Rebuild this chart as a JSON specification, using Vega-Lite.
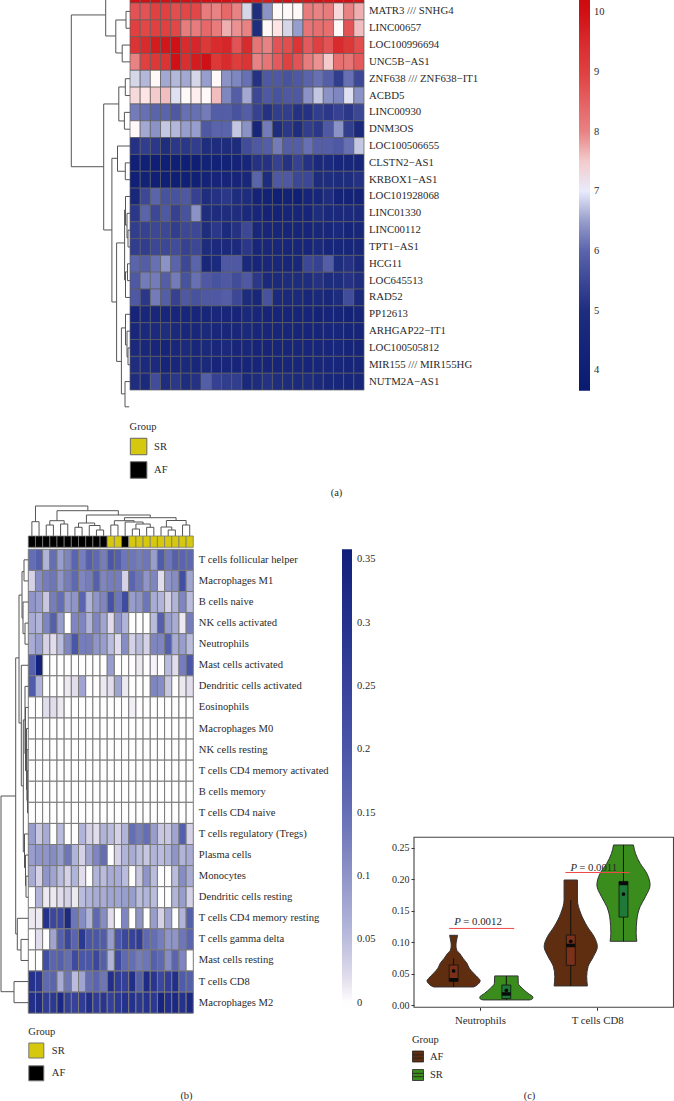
{"$schema":"https://vega.github.io/schema/vega-lite/v6.json","width":674,"height":1101,"padding":0,"autosize":{"type":"none"},"background":"white",
"config":{"view":{"stroke":null},"axis":{"labelFont":"Liberation Serif","titleFont":"Liberation Serif","labelColor":"#2a2a2a","titleColor":"#2a2a2a","grid":false,"titleFontWeight":"normal"},"legend":{"labelFont":"Liberation Serif","titleFont":"Liberation Serif","labelColor":"#2a2a2a","titleColor":"#2a2a2a","titleFontWeight":"normal"}},
"datasets":{
"genes":[{"r":0,"gene":" "},{"r":1,"gene":"MATR3 /// SNHG4"},{"r":2,"gene":"LINC00657"},{"r":3,"gene":"LOC100996694"},{"r":4,"gene":"UNC5B−AS1"},{"r":5,"gene":"ZNF638 /// ZNF638−IT1"},{"r":6,"gene":"ACBD5"},{"r":7,"gene":"LINC00930"},{"r":8,"gene":"DNM3OS"},{"r":9,"gene":"LOC100506655"},{"r":10,"gene":"CLSTN2−AS1"},{"r":11,"gene":"KRBOX1−AS1"},{"r":12,"gene":"LOC101928068"},{"r":13,"gene":"LINC01330"},{"r":14,"gene":"LINC00112"},{"r":15,"gene":"TPT1−AS1"},{"r":16,"gene":"HCG11"},{"r":17,"gene":"LOC645513"},{"r":18,"gene":"RAD52"},{"r":19,"gene":"PP12613"},{"r":20,"gene":"ARHGAP22−IT1"},{"r":21,"gene":"LOC100505812"},{"r":22,"gene":"MIR155 /// MIR155HG"},{"r":23,"gene":"NUTM2A−AS1"}],
"cells":[{"r":1,"gene":"T cells follicular helper"},{"r":2,"gene":"Macrophages M1"},{"r":3,"gene":"B cells naive"},{"r":4,"gene":"NK cells activated"},{"r":5,"gene":"Neutrophils"},{"r":6,"gene":"Mast cells activated"},{"r":7,"gene":"Dendritic cells activated"},{"r":8,"gene":"Eosinophils"},{"r":9,"gene":"Macrophages M0"},{"r":10,"gene":"NK cells resting"},{"r":11,"gene":"T cells CD4 memory activated"},{"r":12,"gene":"B cells memory"},{"r":13,"gene":"T cells CD4 naive"},{"r":14,"gene":"T cells regulatory (Tregs)"},{"r":15,"gene":"Plasma cells"},{"r":16,"gene":"Monocytes"},{"r":17,"gene":"Dendritic cells resting"},{"r":18,"gene":"T cells CD4 memory resting"},{"r":19,"gene":"T cells gamma delta"},{"r":20,"gene":"Mast cells resting"},{"r":21,"gene":"T cells CD8"},{"r":22,"gene":"Macrophages M2"}],
"ann":[{"c":1,"t":"Group","g":"AF"},{"c":2,"t":"Group","g":"AF"},{"c":3,"t":"Group","g":"AF"},{"c":4,"t":"Group","g":"AF"},{"c":5,"t":"Group","g":"AF"},{"c":6,"t":"Group","g":"AF"},{"c":7,"t":"Group","g":"AF"},{"c":8,"t":"Group","g":"AF"},{"c":9,"t":"Group","g":"AF"},{"c":10,"t":"Group","g":"AF"},{"c":11,"t":"Group","g":"AF"},{"c":12,"t":"Group","g":"SR"},{"c":13,"t":"Group","g":"SR"},{"c":14,"t":"Group","g":"AF"},{"c":15,"t":"Group","g":"SR"},{"c":16,"t":"Group","g":"SR"},{"c":17,"t":"Group","g":"SR"},{"c":18,"t":"Group","g":"SR"},{"c":19,"t":"Group","g":"SR"},{"c":20,"t":"Group","g":"SR"},{"c":21,"t":"Group","g":"SR"},{"c":22,"t":"Group","g":"SR"},{"c":23,"t":"Group","g":"SR"}],
"ha":[
{"r":0,"c":1,"v":10},{"r":0,"c":2,"v":10},{"r":0,"c":3,"v":10.1},{"r":0,"c":4,"v":10},{"r":0,"c":5,"v":10.2},{"r":0,"c":6,"v":10},{"r":0,"c":7,"v":10.1},{"r":0,"c":8,"v":10},{"r":0,"c":9,"v":10.1},{"r":0,"c":10,"v":10},{"r":0,"c":11,"v":9.9},{"r":0,"c":12,"v":10},{"r":0,"c":13,"v":9.8},{"r":0,"c":14,"v":9.8},{"r":0,"c":15,"v":10},{"r":0,"c":16,"v":10},{"r":0,"c":17,"v":9.9},{"r":0,"c":18,"v":9.9},{"r":0,"c":19,"v":10},{"r":0,"c":20,"v":9.9},{"r":0,"c":21,"v":10},{"r":0,"c":22,"v":10},{"r":0,"c":23,"v":9.9},
{"r":1,"c":1,"v":8.7},{"r":1,"c":2,"v":8.7},{"r":1,"c":3,"v":9},{"r":1,"c":4,"v":9},{"r":1,"c":5,"v":8.8},{"r":1,"c":6,"v":8.9},{"r":1,"c":7,"v":8.9},{"r":1,"c":8,"v":8.1},{"r":1,"c":9,"v":8},{"r":1,"c":10,"v":8.4},{"r":1,"c":11,"v":8},{"r":1,"c":12,"v":6.9},{"r":1,"c":13,"v":5},{"r":1,"c":14,"v":6.4},{"r":1,"c":15,"v":7.1},{"r":1,"c":16,"v":7.1},{"r":1,"c":17,"v":7.1},{"r":1,"c":18,"v":8.1},{"r":1,"c":19,"v":8},{"r":1,"c":20,"v":8.1},{"r":1,"c":21,"v":7.4},{"r":1,"c":22,"v":8},{"r":1,"c":23,"v":7.7},
{"r":2,"c":1,"v":9},{"r":2,"c":2,"v":8.9},{"r":2,"c":3,"v":9},{"r":2,"c":4,"v":9},{"r":2,"c":5,"v":8.9},{"r":2,"c":6,"v":8.1},{"r":2,"c":7,"v":8.1},{"r":2,"c":8,"v":8.4},{"r":2,"c":9,"v":8.1},{"r":2,"c":10,"v":7.7},{"r":2,"c":11,"v":7.9},{"r":2,"c":12,"v":8},{"r":2,"c":13,"v":5},{"r":2,"c":14,"v":7.1},{"r":2,"c":15,"v":7.3},{"r":2,"c":16,"v":6.9},{"r":2,"c":17,"v":6.5},{"r":2,"c":18,"v":8.2},{"r":2,"c":19,"v":8.3},{"r":2,"c":20,"v":8.3},{"r":2,"c":21,"v":7.1},{"r":2,"c":22,"v":8.7},{"r":2,"c":23,"v":7.6},
{"r":3,"c":1,"v":9.3},{"r":3,"c":2,"v":9.5},{"r":3,"c":3,"v":9.8},{"r":3,"c":4,"v":9.9},{"r":3,"c":5,"v":10},{"r":3,"c":6,"v":9.5},{"r":3,"c":7,"v":9.6},{"r":3,"c":8,"v":9.2},{"r":3,"c":9,"v":9.5},{"r":3,"c":10,"v":9.6},{"r":3,"c":11,"v":8.7},{"r":3,"c":12,"v":9.5},{"r":3,"c":13,"v":8.2},{"r":3,"c":14,"v":8},{"r":3,"c":15,"v":8.7},{"r":3,"c":16,"v":8.8},{"r":3,"c":17,"v":9.3},{"r":3,"c":18,"v":8.6},{"r":3,"c":19,"v":9},{"r":3,"c":20,"v":8.7},{"r":3,"c":21,"v":9.5},{"r":3,"c":22,"v":9.2},{"r":3,"c":23,"v":8.8},
{"r":4,"c":1,"v":8},{"r":4,"c":2,"v":9},{"r":4,"c":3,"v":9.2},{"r":4,"c":4,"v":9.3},{"r":4,"c":5,"v":10},{"r":4,"c":6,"v":9.4},{"r":4,"c":7,"v":9.8},{"r":4,"c":8,"v":10},{"r":4,"c":9,"v":9.2},{"r":4,"c":10,"v":9.5},{"r":4,"c":11,"v":9.1},{"r":4,"c":12,"v":9.3},{"r":4,"c":13,"v":8},{"r":4,"c":14,"v":8.2},{"r":4,"c":15,"v":8.6},{"r":4,"c":16,"v":9},{"r":4,"c":17,"v":8.7},{"r":4,"c":18,"v":8.1},{"r":4,"c":19,"v":7.9},{"r":4,"c":20,"v":7.5},{"r":4,"c":21,"v":8.3},{"r":4,"c":22,"v":8.2},{"r":4,"c":23,"v":8.6},
{"r":5,"c":1,"v":6.9},{"r":5,"c":2,"v":6.7},{"r":5,"c":3,"v":7.1},{"r":5,"c":4,"v":6.6},{"r":5,"c":5,"v":6.7},{"r":5,"c":6,"v":6.6},{"r":5,"c":7,"v":6.9},{"r":5,"c":8,"v":6.5},{"r":5,"c":9,"v":7.1},{"r":5,"c":10,"v":6.4},{"r":5,"c":11,"v":6.3},{"r":5,"c":12,"v":6.1},{"r":5,"c":13,"v":5.1},{"r":5,"c":14,"v":5.8},{"r":5,"c":15,"v":5.8},{"r":5,"c":16,"v":5.7},{"r":5,"c":17,"v":5.8},{"r":5,"c":18,"v":6},{"r":5,"c":19,"v":6.1},{"r":5,"c":20,"v":5.9},{"r":5,"c":21,"v":5.3},{"r":5,"c":22,"v":6.1},{"r":5,"c":23,"v":5.5},
{"r":6,"c":1,"v":7.4},{"r":6,"c":2,"v":7.3},{"r":6,"c":3,"v":7.5},{"r":6,"c":4,"v":7.6},{"r":6,"c":5,"v":6.95},{"r":6,"c":6,"v":7.1},{"r":6,"c":7,"v":7.2},{"r":6,"c":8,"v":7.1},{"r":6,"c":9,"v":7.6},{"r":6,"c":10,"v":6.3},{"r":6,"c":11,"v":5.9},{"r":6,"c":12,"v":6.6},{"r":6,"c":13,"v":5.5},{"r":6,"c":14,"v":5.8},{"r":6,"c":15,"v":5.7},{"r":6,"c":16,"v":5.8},{"r":6,"c":17,"v":5.8},{"r":6,"c":18,"v":6.4},{"r":6,"c":19,"v":6.8},{"r":6,"c":20,"v":6.4},{"r":6,"c":21,"v":6.3},{"r":6,"c":22,"v":6.95},{"r":6,"c":23,"v":6.4},
{"r":7,"c":1,"v":6.2},{"r":7,"c":2,"v":6.1},{"r":7,"c":3,"v":6},{"r":7,"c":4,"v":6},{"r":7,"c":5,"v":5.8},{"r":7,"c":6,"v":6.1},{"r":7,"c":7,"v":6.1},{"r":7,"c":8,"v":6.2},{"r":7,"c":9,"v":5.9},{"r":7,"c":10,"v":5.9},{"r":7,"c":11,"v":5.7},{"r":7,"c":12,"v":5.9},{"r":7,"c":13,"v":5.4},{"r":7,"c":14,"v":5.1},{"r":7,"c":15,"v":5.3},{"r":7,"c":16,"v":5.3},{"r":7,"c":17,"v":5.1},{"r":7,"c":18,"v":5.1},{"r":7,"c":19,"v":5.3},{"r":7,"c":20,"v":5.2},{"r":7,"c":21,"v":5.4},{"r":7,"c":22,"v":5.2},{"r":7,"c":23,"v":5.5},
{"r":8,"c":1,"v":7.1},{"r":8,"c":2,"v":6.6},{"r":8,"c":3,"v":6.4},{"r":8,"c":4,"v":6.8},{"r":8,"c":5,"v":6.7},{"r":8,"c":6,"v":6.5},{"r":8,"c":7,"v":6.5},{"r":8,"c":8,"v":5.8},{"r":8,"c":9,"v":6},{"r":8,"c":10,"v":6},{"r":8,"c":11,"v":6.8},{"r":8,"c":12,"v":6.4},{"r":8,"c":13,"v":4.5},{"r":8,"c":14,"v":6.2},{"r":8,"c":15,"v":5},{"r":8,"c":16,"v":5.2},{"r":8,"c":17,"v":5},{"r":8,"c":18,"v":5.3},{"r":8,"c":19,"v":5.2},{"r":8,"c":20,"v":5.8},{"r":8,"c":21,"v":6.4},{"r":8,"c":22,"v":5.3},{"r":8,"c":23,"v":4.8},
{"r":9,"c":1,"v":5.1},{"r":9,"c":2,"v":5.3},{"r":9,"c":3,"v":5.2},{"r":9,"c":4,"v":5},{"r":9,"c":5,"v":5.2},{"r":9,"c":6,"v":5.2},{"r":9,"c":7,"v":5.3},{"r":9,"c":8,"v":5},{"r":9,"c":9,"v":4.9},{"r":9,"c":10,"v":4.9},{"r":9,"c":11,"v":4.9},{"r":9,"c":12,"v":5.6},{"r":9,"c":13,"v":5.8},{"r":9,"c":14,"v":5.9},{"r":9,"c":15,"v":6.2},{"r":9,"c":16,"v":5.9},{"r":9,"c":17,"v":5.9},{"r":9,"c":18,"v":6.1},{"r":9,"c":19,"v":5.9},{"r":9,"c":20,"v":5.9},{"r":9,"c":21,"v":5.8},{"r":9,"c":22,"v":6.1},{"r":9,"c":23,"v":6.8},
{"r":10,"c":1,"v":4.1},{"r":10,"c":2,"v":4.1},{"r":10,"c":3,"v":4},{"r":10,"c":4,"v":4},{"r":10,"c":5,"v":4},{"r":10,"c":6,"v":4},{"r":10,"c":7,"v":4},{"r":10,"c":8,"v":4.2},{"r":10,"c":9,"v":4.2},{"r":10,"c":10,"v":4.2},{"r":10,"c":11,"v":4.3},{"r":10,"c":12,"v":4.5},{"r":10,"c":13,"v":5.1},{"r":10,"c":14,"v":5.1},{"r":10,"c":15,"v":5.4},{"r":10,"c":16,"v":5.1},{"r":10,"c":17,"v":5.4},{"r":10,"c":18,"v":5.1},{"r":10,"c":19,"v":4.7},{"r":10,"c":20,"v":4.8},{"r":10,"c":21,"v":4.5},{"r":10,"c":22,"v":4.6},{"r":10,"c":23,"v":4.5},
{"r":11,"c":1,"v":4.1},{"r":11,"c":2,"v":4.2},{"r":11,"c":3,"v":4.1},{"r":11,"c":4,"v":4},{"r":11,"c":5,"v":4},{"r":11,"c":6,"v":4.1},{"r":11,"c":7,"v":4.1},{"r":11,"c":8,"v":4.3},{"r":11,"c":9,"v":4.4},{"r":11,"c":10,"v":4.4},{"r":11,"c":11,"v":4.4},{"r":11,"c":12,"v":4.6},{"r":11,"c":13,"v":6},{"r":11,"c":14,"v":4.9},{"r":11,"c":15,"v":5.8},{"r":11,"c":16,"v":5.8},{"r":11,"c":17,"v":5.5},{"r":11,"c":18,"v":5.5},{"r":11,"c":19,"v":4.9},{"r":11,"c":20,"v":5},{"r":11,"c":21,"v":4.9},{"r":11,"c":22,"v":5},{"r":11,"c":23,"v":5.1},
{"r":12,"c":1,"v":4.6},{"r":12,"c":2,"v":5.5},{"r":12,"c":3,"v":6},{"r":12,"c":4,"v":5.7},{"r":12,"c":5,"v":5.7},{"r":12,"c":6,"v":5.8},{"r":12,"c":7,"v":5.4},{"r":12,"c":8,"v":5},{"r":12,"c":9,"v":5.1},{"r":12,"c":10,"v":5.2},{"r":12,"c":11,"v":5},{"r":12,"c":12,"v":4.9},{"r":12,"c":13,"v":4.3},{"r":12,"c":14,"v":4.2},{"r":12,"c":15,"v":4.1},{"r":12,"c":16,"v":4.2},{"r":12,"c":17,"v":4.1},{"r":12,"c":18,"v":4.4},{"r":12,"c":19,"v":4.5},{"r":12,"c":20,"v":5},{"r":12,"c":21,"v":4.3},{"r":12,"c":22,"v":4.3},{"r":12,"c":23,"v":4.3},
{"r":13,"c":1,"v":5.2},{"r":13,"c":2,"v":6},{"r":13,"c":3,"v":5.5},{"r":13,"c":4,"v":5.8},{"r":13,"c":5,"v":5.4},{"r":13,"c":6,"v":5.7},{"r":13,"c":7,"v":6.4},{"r":13,"c":8,"v":5},{"r":13,"c":9,"v":4.9},{"r":13,"c":10,"v":5},{"r":13,"c":11,"v":5},{"r":13,"c":12,"v":4.7},{"r":13,"c":13,"v":4.5},{"r":13,"c":14,"v":4.3},{"r":13,"c":15,"v":4.3},{"r":13,"c":16,"v":4.4},{"r":13,"c":17,"v":4.4},{"r":13,"c":18,"v":4.4},{"r":13,"c":19,"v":5},{"r":13,"c":20,"v":4.7},{"r":13,"c":21,"v":4.7},{"r":13,"c":22,"v":4.8},{"r":13,"c":23,"v":4.7},
{"r":14,"c":1,"v":5.3},{"r":14,"c":2,"v":5.4},{"r":14,"c":3,"v":5.5},{"r":14,"c":4,"v":5.5},{"r":14,"c":5,"v":5.3},{"r":14,"c":6,"v":5.5},{"r":14,"c":7,"v":5.5},{"r":14,"c":8,"v":5},{"r":14,"c":9,"v":5.2},{"r":14,"c":10,"v":4.8},{"r":14,"c":11,"v":5.1},{"r":14,"c":12,"v":5.5},{"r":14,"c":13,"v":4.6},{"r":14,"c":14,"v":4.5},{"r":14,"c":15,"v":4.5},{"r":14,"c":16,"v":4.4},{"r":14,"c":17,"v":4.4},{"r":14,"c":18,"v":4.4},{"r":14,"c":19,"v":4.6},{"r":14,"c":20,"v":4.6},{"r":14,"c":21,"v":4.7},{"r":14,"c":22,"v":4.4},{"r":14,"c":23,"v":4.6},
{"r":15,"c":1,"v":5.3},{"r":15,"c":2,"v":5.3},{"r":15,"c":3,"v":5.5},{"r":15,"c":4,"v":5.5},{"r":15,"c":5,"v":5.6},{"r":15,"c":6,"v":5.4},{"r":15,"c":7,"v":5.5},{"r":15,"c":8,"v":4.9},{"r":15,"c":9,"v":4.8},{"r":15,"c":10,"v":4.8},{"r":15,"c":11,"v":4.8},{"r":15,"c":12,"v":5.2},{"r":15,"c":13,"v":4.5},{"r":15,"c":14,"v":4.6},{"r":15,"c":15,"v":4.6},{"r":15,"c":16,"v":4.5},{"r":15,"c":17,"v":4.5},{"r":15,"c":18,"v":4.5},{"r":15,"c":19,"v":4.7},{"r":15,"c":20,"v":4.5},{"r":15,"c":21,"v":4.5},{"r":15,"c":22,"v":4.5},{"r":15,"c":23,"v":4.6},
{"r":16,"c":1,"v":6},{"r":16,"c":2,"v":5.9},{"r":16,"c":3,"v":6.1},{"r":16,"c":4,"v":6.4},{"r":16,"c":5,"v":6},{"r":16,"c":6,"v":5.5},{"r":16,"c":7,"v":6},{"r":16,"c":8,"v":4.6},{"r":16,"c":9,"v":4.8},{"r":16,"c":10,"v":5.8},{"r":16,"c":11,"v":5.8},{"r":16,"c":12,"v":4.7},{"r":16,"c":13,"v":4.4},{"r":16,"c":14,"v":4.6},{"r":16,"c":15,"v":4.6},{"r":16,"c":16,"v":4.5},{"r":16,"c":17,"v":4.6},{"r":16,"c":18,"v":5.5},{"r":16,"c":19,"v":5.4},{"r":16,"c":20,"v":5.9},{"r":16,"c":21,"v":5},{"r":16,"c":22,"v":5.1},{"r":16,"c":23,"v":4.7},
{"r":17,"c":1,"v":5.8},{"r":17,"c":2,"v":6.2},{"r":17,"c":3,"v":6.2},{"r":17,"c":4,"v":5.9},{"r":17,"c":5,"v":6.2},{"r":17,"c":6,"v":5.7},{"r":17,"c":7,"v":6.1},{"r":17,"c":8,"v":5.8},{"r":17,"c":9,"v":5.7},{"r":17,"c":10,"v":5.8},{"r":17,"c":11,"v":5.6},{"r":17,"c":12,"v":5.8},{"r":17,"c":13,"v":5.2},{"r":17,"c":14,"v":4.7},{"r":17,"c":15,"v":4.8},{"r":17,"c":16,"v":4.9},{"r":17,"c":17,"v":4.9},{"r":17,"c":18,"v":5},{"r":17,"c":19,"v":5.1},{"r":17,"c":20,"v":4.9},{"r":17,"c":21,"v":5},{"r":17,"c":22,"v":5.1},{"r":17,"c":23,"v":5},
{"r":18,"c":1,"v":5.8},{"r":18,"c":2,"v":5.2},{"r":18,"c":3,"v":6.2},{"r":18,"c":4,"v":5.9},{"r":18,"c":5,"v":5.4},{"r":18,"c":6,"v":5.8},{"r":18,"c":7,"v":5.7},{"r":18,"c":8,"v":5.8},{"r":18,"c":9,"v":5.8},{"r":18,"c":10,"v":5.9},{"r":18,"c":11,"v":5.5},{"r":18,"c":12,"v":4.9},{"r":18,"c":13,"v":4.6},{"r":18,"c":14,"v":5.7},{"r":18,"c":15,"v":4.8},{"r":18,"c":16,"v":4.7},{"r":18,"c":17,"v":4.8},{"r":18,"c":18,"v":4.6},{"r":18,"c":19,"v":4.7},{"r":18,"c":20,"v":4.6},{"r":18,"c":21,"v":4.9},{"r":18,"c":22,"v":5.6},{"r":18,"c":23,"v":4.8},
{"r":19,"c":1,"v":4.4},{"r":19,"c":2,"v":4.6},{"r":19,"c":3,"v":4.6},{"r":19,"c":4,"v":4.5},{"r":19,"c":5,"v":4.5},{"r":19,"c":6,"v":4.5},{"r":19,"c":7,"v":4.5},{"r":19,"c":8,"v":4.5},{"r":19,"c":9,"v":4.6},{"r":19,"c":10,"v":4.5},{"r":19,"c":11,"v":4.4},{"r":19,"c":12,"v":4.7},{"r":19,"c":13,"v":4.5},{"r":19,"c":14,"v":4.4},{"r":19,"c":15,"v":4.4},{"r":19,"c":16,"v":4.4},{"r":19,"c":17,"v":4.4},{"r":19,"c":18,"v":4.4},{"r":19,"c":19,"v":4.3},{"r":19,"c":20,"v":4.4},{"r":19,"c":21,"v":4.4},{"r":19,"c":22,"v":4.3},{"r":19,"c":23,"v":4.4},
{"r":20,"c":1,"v":4.6},{"r":20,"c":2,"v":4.7},{"r":20,"c":3,"v":4.8},{"r":20,"c":4,"v":5},{"r":20,"c":5,"v":4.7},{"r":20,"c":6,"v":4.6},{"r":20,"c":7,"v":4.6},{"r":20,"c":8,"v":4.7},{"r":20,"c":9,"v":4.6},{"r":20,"c":10,"v":4.6},{"r":20,"c":11,"v":4.6},{"r":20,"c":12,"v":4.7},{"r":20,"c":13,"v":4.5},{"r":20,"c":14,"v":4.5},{"r":20,"c":15,"v":4.5},{"r":20,"c":16,"v":4.5},{"r":20,"c":17,"v":4.4},{"r":20,"c":18,"v":4.4},{"r":20,"c":19,"v":4.4},{"r":20,"c":20,"v":4.5},{"r":20,"c":21,"v":4.5},{"r":20,"c":22,"v":4.4},{"r":20,"c":23,"v":4.4},
{"r":21,"c":1,"v":4.7},{"r":21,"c":2,"v":4.6},{"r":21,"c":3,"v":4.5},{"r":21,"c":4,"v":4.4},{"r":21,"c":5,"v":4.6},{"r":21,"c":6,"v":4.8},{"r":21,"c":7,"v":4.6},{"r":21,"c":8,"v":4.7},{"r":21,"c":9,"v":4.6},{"r":21,"c":10,"v":4.7},{"r":21,"c":11,"v":4.5},{"r":21,"c":12,"v":4.6},{"r":21,"c":13,"v":4.4},{"r":21,"c":14,"v":4.4},{"r":21,"c":15,"v":4.5},{"r":21,"c":16,"v":4.5},{"r":21,"c":17,"v":4.5},{"r":21,"c":18,"v":4.5},{"r":21,"c":19,"v":4.5},{"r":21,"c":20,"v":4.5},{"r":21,"c":21,"v":4.6},{"r":21,"c":22,"v":4.4},{"r":21,"c":23,"v":4.4},
{"r":22,"c":1,"v":5},{"r":22,"c":2,"v":4.8},{"r":22,"c":3,"v":4.8},{"r":22,"c":4,"v":4.4},{"r":22,"c":5,"v":4.5},{"r":22,"c":6,"v":4.7},{"r":22,"c":7,"v":4.6},{"r":22,"c":8,"v":4.7},{"r":22,"c":9,"v":4.4},{"r":22,"c":10,"v":4.5},{"r":22,"c":11,"v":4.4},{"r":22,"c":12,"v":4.4},{"r":22,"c":13,"v":4.4},{"r":22,"c":14,"v":4.4},{"r":22,"c":15,"v":4.4},{"r":22,"c":16,"v":4.5},{"r":22,"c":17,"v":4.5},{"r":22,"c":18,"v":4.4},{"r":22,"c":19,"v":4.5},{"r":22,"c":20,"v":4.5},{"r":22,"c":21,"v":4.5},{"r":22,"c":22,"v":4.4},{"r":22,"c":23,"v":4.5},
{"r":23,"c":1,"v":5},{"r":23,"c":2,"v":4.8},{"r":23,"c":3,"v":5.6},{"r":23,"c":4,"v":5},{"r":23,"c":5,"v":5.2},{"r":23,"c":6,"v":5},{"r":23,"c":7,"v":5.1},{"r":23,"c":8,"v":5.9},{"r":23,"c":9,"v":5.4},{"r":23,"c":10,"v":5.3},{"r":23,"c":11,"v":5.3},{"r":23,"c":12,"v":4.7},{"r":23,"c":13,"v":4.9},{"r":23,"c":14,"v":5.1},{"r":23,"c":15,"v":5},{"r":23,"c":16,"v":4.9},{"r":23,"c":17,"v":4.8},{"r":23,"c":18,"v":4.9},{"r":23,"c":19,"v":4.7},{"r":23,"c":20,"v":4.6},{"r":23,"c":21,"v":4.6},{"r":23,"c":22,"v":4.5},{"r":23,"c":23,"v":4.6}],
"hb":[
{"r":1,"c":1,"v":0.15},{"r":1,"c":2,"v":0.18},{"r":1,"c":3,"v":0.06},{"r":1,"c":4,"v":0.15},{"r":1,"c":5,"v":0.09},{"r":1,"c":6,"v":0.12},{"r":1,"c":7,"v":0.17},{"r":1,"c":8,"v":0.13},{"r":1,"c":9,"v":0.18},{"r":1,"c":10,"v":0.16},{"r":1,"c":11,"v":0.13},{"r":1,"c":12,"v":0.2},{"r":1,"c":13,"v":0.18},{"r":1,"c":14,"v":0.14},{"r":1,"c":15,"v":0.14},{"r":1,"c":16,"v":0.13},{"r":1,"c":17,"v":0.14},{"r":1,"c":18,"v":0.09},{"r":1,"c":19,"v":0.19},{"r":1,"c":20,"v":0.14},{"r":1,"c":21,"v":0.18},{"r":1,"c":22,"v":0.17},{"r":1,"c":23,"v":0.16},
{"r":2,"c":1,"v":0.03},{"r":2,"c":2,"v":0.11},{"r":2,"c":3,"v":0.13},{"r":2,"c":4,"v":0.14},{"r":2,"c":5,"v":0.1},{"r":2,"c":6,"v":0.13},{"r":2,"c":7,"v":0.16},{"r":2,"c":8,"v":0.12},{"r":2,"c":9,"v":0.13},{"r":2,"c":10,"v":0.18},{"r":2,"c":11,"v":0.12},{"r":2,"c":12,"v":0.13},{"r":2,"c":13,"v":0.13},{"r":2,"c":14,"v":0.03},{"r":2,"c":15,"v":0.17},{"r":2,"c":16,"v":0.14},{"r":2,"c":17,"v":0.1},{"r":2,"c":18,"v":0.12},{"r":2,"c":19,"v":0.02},{"r":2,"c":20,"v":0.1},{"r":2,"c":21,"v":0.11},{"r":2,"c":22,"v":0.22},{"r":2,"c":23,"v":0.08},
{"r":3,"c":1,"v":0.1},{"r":3,"c":2,"v":0.09},{"r":3,"c":3,"v":0.04},{"r":3,"c":4,"v":0.13},{"r":3,"c":5,"v":0.15},{"r":3,"c":6,"v":0.09},{"r":3,"c":7,"v":0.1},{"r":3,"c":8,"v":0.17},{"r":3,"c":9,"v":0.06},{"r":3,"c":10,"v":0.1},{"r":3,"c":11,"v":0.12},{"r":3,"c":12,"v":0.21},{"r":3,"c":13,"v":0.14},{"r":3,"c":14,"v":0.23},{"r":3,"c":15,"v":0.09},{"r":3,"c":16,"v":0.1},{"r":3,"c":17,"v":0.14},{"r":3,"c":18,"v":0.07},{"r":3,"c":19,"v":0.06},{"r":3,"c":20,"v":0.03},{"r":3,"c":21,"v":0.06},{"r":3,"c":22,"v":0.12},{"r":3,"c":23,"v":0.05},
{"r":4,"c":1,"v":0.07},{"r":4,"c":2,"v":0.06},{"r":4,"c":3,"v":0.12},{"r":4,"c":4,"v":0.18},{"r":4,"c":5,"v":0.09},{"r":4,"c":6,"v":0},{"r":4,"c":7,"v":0.12},{"r":4,"c":8,"v":0.12},{"r":4,"c":9,"v":0.06},{"r":4,"c":10,"v":0.12},{"r":4,"c":11,"v":0.08},{"r":4,"c":12,"v":0.02},{"r":4,"c":13,"v":0.1},{"r":4,"c":14,"v":0.06},{"r":4,"c":15,"v":0},{"r":4,"c":16,"v":0},{"r":4,"c":17,"v":0},{"r":4,"c":18,"v":0.05},{"r":4,"c":19,"v":0.18},{"r":4,"c":20,"v":0.09},{"r":4,"c":21,"v":0.07},{"r":4,"c":22,"v":0.01},{"r":4,"c":23,"v":0.13},
{"r":5,"c":1,"v":0.07},{"r":5,"c":2,"v":0.09},{"r":5,"c":3,"v":0.03},{"r":5,"c":4,"v":0.02},{"r":5,"c":5,"v":0.05},{"r":5,"c":6,"v":0.12},{"r":5,"c":7,"v":0.2},{"r":5,"c":8,"v":0.13},{"r":5,"c":9,"v":0.13},{"r":5,"c":10,"v":0.1},{"r":5,"c":11,"v":0.09},{"r":5,"c":12,"v":0.05},{"r":5,"c":13,"v":0.02},{"r":5,"c":14,"v":0.11},{"r":5,"c":15,"v":0.03},{"r":5,"c":16,"v":0.05},{"r":5,"c":17,"v":0.03},{"r":5,"c":18,"v":0.12},{"r":5,"c":19,"v":0.12},{"r":5,"c":20,"v":0.18},{"r":5,"c":21,"v":0.07},{"r":5,"c":22,"v":0.09},{"r":5,"c":23,"v":0.05},
{"r":6,"c":1,"v":0.18},{"r":6,"c":2,"v":0.35},{"r":6,"c":3,"v":0},{"r":6,"c":4,"v":0},{"r":6,"c":5,"v":0},{"r":6,"c":6,"v":0},{"r":6,"c":7,"v":0},{"r":6,"c":8,"v":0},{"r":6,"c":9,"v":0},{"r":6,"c":10,"v":0},{"r":6,"c":11,"v":0},{"r":6,"c":12,"v":0.09},{"r":6,"c":13,"v":0},{"r":6,"c":14,"v":0},{"r":6,"c":15,"v":0},{"r":6,"c":16,"v":0.01},{"r":6,"c":17,"v":0},{"r":6,"c":18,"v":0.005},{"r":6,"c":19,"v":0},{"r":6,"c":20,"v":0.05},{"r":6,"c":21,"v":0.02},{"r":6,"c":22,"v":0.13},{"r":6,"c":23,"v":0.2},
{"r":7,"c":1,"v":0.19},{"r":7,"c":2,"v":0.06},{"r":7,"c":3,"v":0},{"r":7,"c":4,"v":0},{"r":7,"c":5,"v":0},{"r":7,"c":6,"v":0.01},{"r":7,"c":7,"v":0.02},{"r":7,"c":8,"v":0.08},{"r":7,"c":9,"v":0},{"r":7,"c":10,"v":0},{"r":7,"c":11,"v":0.01},{"r":7,"c":12,"v":0.02},{"r":7,"c":13,"v":0.08},{"r":7,"c":14,"v":0.01},{"r":7,"c":15,"v":0},{"r":7,"c":16,"v":0},{"r":7,"c":17,"v":0},{"r":7,"c":18,"v":0.12},{"r":7,"c":19,"v":0.11},{"r":7,"c":20,"v":0.04},{"r":7,"c":21,"v":0},{"r":7,"c":22,"v":0.01},{"r":7,"c":23,"v":0.02},
{"r":8,"c":1,"v":0},{"r":8,"c":2,"v":0},{"r":8,"c":3,"v":0.02},{"r":8,"c":4,"v":0.02},{"r":8,"c":5,"v":0.01},{"r":8,"c":6,"v":0},{"r":8,"c":7,"v":0},{"r":8,"c":8,"v":0},{"r":8,"c":9,"v":0},{"r":8,"c":10,"v":0},{"r":8,"c":11,"v":0},{"r":8,"c":12,"v":0},{"r":8,"c":13,"v":0},{"r":8,"c":14,"v":0},{"r":8,"c":15,"v":0.007},{"r":8,"c":16,"v":0},{"r":8,"c":17,"v":0},{"r":8,"c":18,"v":0},{"r":8,"c":19,"v":0},{"r":8,"c":20,"v":0},{"r":8,"c":21,"v":0},{"r":8,"c":22,"v":0},{"r":8,"c":23,"v":0},
{"r":9,"c":1,"v":0},{"r":9,"c":2,"v":0},{"r":9,"c":3,"v":0},{"r":9,"c":4,"v":0},{"r":9,"c":5,"v":0},{"r":9,"c":6,"v":0},{"r":9,"c":7,"v":0},{"r":9,"c":8,"v":0},{"r":9,"c":9,"v":0},{"r":9,"c":10,"v":0},{"r":9,"c":11,"v":0},{"r":9,"c":12,"v":0},{"r":9,"c":13,"v":0},{"r":9,"c":14,"v":0},{"r":9,"c":15,"v":0},{"r":9,"c":16,"v":0},{"r":9,"c":17,"v":0},{"r":9,"c":18,"v":0},{"r":9,"c":19,"v":0},{"r":9,"c":20,"v":0},{"r":9,"c":21,"v":0},{"r":9,"c":22,"v":0},{"r":9,"c":23,"v":0},
{"r":10,"c":1,"v":0},{"r":10,"c":2,"v":0},{"r":10,"c":3,"v":0},{"r":10,"c":4,"v":0},{"r":10,"c":5,"v":0},{"r":10,"c":6,"v":0},{"r":10,"c":7,"v":0},{"r":10,"c":8,"v":0},{"r":10,"c":9,"v":0},{"r":10,"c":10,"v":0},{"r":10,"c":11,"v":0},{"r":10,"c":12,"v":0},{"r":10,"c":13,"v":0},{"r":10,"c":14,"v":0},{"r":10,"c":15,"v":0},{"r":10,"c":16,"v":0},{"r":10,"c":17,"v":0},{"r":10,"c":18,"v":0},{"r":10,"c":19,"v":0},{"r":10,"c":20,"v":0},{"r":10,"c":21,"v":0},{"r":10,"c":22,"v":0},{"r":10,"c":23,"v":0},
{"r":11,"c":1,"v":0},{"r":11,"c":2,"v":0},{"r":11,"c":3,"v":0},{"r":11,"c":4,"v":0},{"r":11,"c":5,"v":0},{"r":11,"c":6,"v":0},{"r":11,"c":7,"v":0},{"r":11,"c":8,"v":0},{"r":11,"c":9,"v":0},{"r":11,"c":10,"v":0},{"r":11,"c":11,"v":0},{"r":11,"c":12,"v":0},{"r":11,"c":13,"v":0},{"r":11,"c":14,"v":0},{"r":11,"c":15,"v":0},{"r":11,"c":16,"v":0},{"r":11,"c":17,"v":0},{"r":11,"c":18,"v":0},{"r":11,"c":19,"v":0},{"r":11,"c":20,"v":0},{"r":11,"c":21,"v":0},{"r":11,"c":22,"v":0},{"r":11,"c":23,"v":0},
{"r":12,"c":1,"v":0},{"r":12,"c":2,"v":0},{"r":12,"c":3,"v":0},{"r":12,"c":4,"v":0},{"r":12,"c":5,"v":0},{"r":12,"c":6,"v":0},{"r":12,"c":7,"v":0},{"r":12,"c":8,"v":0},{"r":12,"c":9,"v":0},{"r":12,"c":10,"v":0},{"r":12,"c":11,"v":0},{"r":12,"c":12,"v":0},{"r":12,"c":13,"v":0},{"r":12,"c":14,"v":0},{"r":12,"c":15,"v":0},{"r":12,"c":16,"v":0},{"r":12,"c":17,"v":0},{"r":12,"c":18,"v":0},{"r":12,"c":19,"v":0},{"r":12,"c":20,"v":0},{"r":12,"c":21,"v":0},{"r":12,"c":22,"v":0},{"r":12,"c":23,"v":0},
{"r":13,"c":1,"v":0},{"r":13,"c":2,"v":0},{"r":13,"c":3,"v":0},{"r":13,"c":4,"v":0},{"r":13,"c":5,"v":0},{"r":13,"c":6,"v":0},{"r":13,"c":7,"v":0},{"r":13,"c":8,"v":0},{"r":13,"c":9,"v":0},{"r":13,"c":10,"v":0},{"r":13,"c":11,"v":0},{"r":13,"c":12,"v":0},{"r":13,"c":13,"v":0},{"r":13,"c":14,"v":0},{"r":13,"c":15,"v":0},{"r":13,"c":16,"v":0},{"r":13,"c":17,"v":0},{"r":13,"c":18,"v":0},{"r":13,"c":19,"v":0},{"r":13,"c":20,"v":0},{"r":13,"c":21,"v":0},{"r":13,"c":22,"v":0},{"r":13,"c":23,"v":0},
{"r":14,"c":1,"v":0.09},{"r":14,"c":2,"v":0.04},{"r":14,"c":3,"v":0.07},{"r":14,"c":4,"v":0},{"r":14,"c":5,"v":0.05},{"r":14,"c":6,"v":0},{"r":14,"c":7,"v":0},{"r":14,"c":8,"v":0.06},{"r":14,"c":9,"v":0.03},{"r":14,"c":10,"v":0.02},{"r":14,"c":11,"v":0.06},{"r":14,"c":12,"v":0.05},{"r":14,"c":13,"v":0.03},{"r":14,"c":14,"v":0.06},{"r":14,"c":15,"v":0.15},{"r":14,"c":16,"v":0.13},{"r":14,"c":17,"v":0.15},{"r":14,"c":18,"v":0.09},{"r":14,"c":19,"v":0.04},{"r":14,"c":20,"v":0.04},{"r":14,"c":21,"v":0.08},{"r":14,"c":22,"v":0.18},{"r":14,"c":23,"v":0.03},
{"r":15,"c":1,"v":0.09},{"r":15,"c":2,"v":0.1},{"r":15,"c":3,"v":0.1},{"r":15,"c":4,"v":0.11},{"r":15,"c":5,"v":0.09},{"r":15,"c":6,"v":0.14},{"r":15,"c":7,"v":0.06},{"r":15,"c":8,"v":0.03},{"r":15,"c":9,"v":0.08},{"r":15,"c":10,"v":0.12},{"r":15,"c":11,"v":0.15},{"r":15,"c":12,"v":0},{"r":15,"c":13,"v":0.03},{"r":15,"c":14,"v":0.06},{"r":15,"c":15,"v":0.07},{"r":15,"c":16,"v":0.05},{"r":15,"c":17,"v":0.04},{"r":15,"c":18,"v":0.06},{"r":15,"c":19,"v":0.05},{"r":15,"c":20,"v":0.06},{"r":15,"c":21,"v":0.1},{"r":15,"c":22,"v":0.06},{"r":15,"c":23,"v":0.07},
{"r":16,"c":1,"v":0.07},{"r":16,"c":2,"v":0.03},{"r":16,"c":3,"v":0.1},{"r":16,"c":4,"v":0.08},{"r":16,"c":5,"v":0.05},{"r":16,"c":6,"v":0.03},{"r":16,"c":7,"v":0.06},{"r":16,"c":8,"v":0.02},{"r":16,"c":9,"v":0},{"r":16,"c":10,"v":0.06},{"r":16,"c":11,"v":0.05},{"r":16,"c":12,"v":0.07},{"r":16,"c":13,"v":0.07},{"r":16,"c":14,"v":0.05},{"r":16,"c":15,"v":0},{"r":16,"c":16,"v":0.04},{"r":16,"c":17,"v":0.1},{"r":16,"c":18,"v":0.05},{"r":16,"c":19,"v":0},{"r":16,"c":20,"v":0},{"r":16,"c":21,"v":0.05},{"r":16,"c":22,"v":0.11},{"r":16,"c":23,"v":0.07},
{"r":17,"c":1,"v":0},{"r":17,"c":2,"v":0.06},{"r":17,"c":3,"v":0.01},{"r":17,"c":4,"v":0.01},{"r":17,"c":5,"v":0.02},{"r":17,"c":6,"v":0.03},{"r":17,"c":7,"v":0.01},{"r":17,"c":8,"v":0.05},{"r":17,"c":9,"v":0.06},{"r":17,"c":10,"v":0.07},{"r":17,"c":11,"v":0.07},{"r":17,"c":12,"v":0.08},{"r":17,"c":13,"v":0.08},{"r":17,"c":14,"v":0.09},{"r":17,"c":15,"v":0.09},{"r":17,"c":16,"v":0.05},{"r":17,"c":17,"v":0.06},{"r":17,"c":18,"v":0.05},{"r":17,"c":19,"v":0},{"r":17,"c":20,"v":0},{"r":17,"c":21,"v":0.06},{"r":17,"c":22,"v":0.09},{"r":17,"c":23,"v":0.03},
{"r":18,"c":1,"v":0.01},{"r":18,"c":2,"v":0.01},{"r":18,"c":3,"v":0.3},{"r":18,"c":4,"v":0.24},{"r":18,"c":5,"v":0.24},{"r":18,"c":6,"v":0.33},{"r":18,"c":7,"v":0.14},{"r":18,"c":8,"v":0.11},{"r":18,"c":9,"v":0.06},{"r":18,"c":10,"v":0.16},{"r":18,"c":11,"v":0.11},{"r":18,"c":12,"v":0.02},{"r":18,"c":13,"v":0},{"r":18,"c":14,"v":0.12},{"r":18,"c":15,"v":0},{"r":18,"c":16,"v":0.1},{"r":18,"c":17,"v":0},{"r":18,"c":18,"v":0.09},{"r":18,"c":19,"v":0.03},{"r":18,"c":20,"v":0.08},{"r":18,"c":21,"v":0},{"r":18,"c":22,"v":0.06},{"r":18,"c":23,"v":0.18},
{"r":19,"c":1,"v":0},{"r":19,"c":2,"v":0.02},{"r":19,"c":3,"v":0},{"r":19,"c":4,"v":0.08},{"r":19,"c":5,"v":0.18},{"r":19,"c":6,"v":0.24},{"r":19,"c":7,"v":0.17},{"r":19,"c":8,"v":0.28},{"r":19,"c":9,"v":0.2},{"r":19,"c":10,"v":0.2},{"r":19,"c":11,"v":0.19},{"r":19,"c":12,"v":0.09},{"r":19,"c":13,"v":0.2},{"r":19,"c":14,"v":0.24},{"r":19,"c":15,"v":0.25},{"r":19,"c":16,"v":0.27},{"r":19,"c":17,"v":0.16},{"r":19,"c":18,"v":0.15},{"r":19,"c":19,"v":0.13},{"r":19,"c":20,"v":0.1},{"r":19,"c":21,"v":0.1},{"r":19,"c":22,"v":0.14},{"r":19,"c":23,"v":0.17},
{"r":20,"c":1,"v":0},{"r":20,"c":2,"v":0},{"r":20,"c":3,"v":0.22},{"r":20,"c":4,"v":0.17},{"r":20,"c":5,"v":0.18},{"r":20,"c":6,"v":0.15},{"r":20,"c":7,"v":0.23},{"r":20,"c":8,"v":0.2},{"r":20,"c":9,"v":0.2},{"r":20,"c":10,"v":0.24},{"r":20,"c":11,"v":0.18},{"r":20,"c":12,"v":0.06},{"r":20,"c":13,"v":0.23},{"r":20,"c":14,"v":0.16},{"r":20,"c":15,"v":0.15},{"r":20,"c":16,"v":0.13},{"r":20,"c":17,"v":0.14},{"r":20,"c":18,"v":0.18},{"r":20,"c":19,"v":0.16},{"r":20,"c":20,"v":0.11},{"r":20,"c":21,"v":0.17},{"r":20,"c":22,"v":0.12},{"r":20,"c":23,"v":0},
{"r":21,"c":1,"v":0.3},{"r":21,"c":2,"v":0.29},{"r":21,"c":3,"v":0.16},{"r":21,"c":4,"v":0.17},{"r":21,"c":5,"v":0.07},{"r":21,"c":6,"v":0.14},{"r":21,"c":7,"v":0.05},{"r":21,"c":8,"v":0.08},{"r":21,"c":9,"v":0.15},{"r":21,"c":10,"v":0.17},{"r":21,"c":11,"v":0.14},{"r":21,"c":12,"v":0.31},{"r":21,"c":13,"v":0.27},{"r":21,"c":14,"v":0.26},{"r":21,"c":15,"v":0.31},{"r":21,"c":16,"v":0.18},{"r":21,"c":17,"v":0.32},{"r":21,"c":18,"v":0.29},{"r":21,"c":19,"v":0.24},{"r":21,"c":20,"v":0.27},{"r":21,"c":21,"v":0.31},{"r":21,"c":22,"v":0.19},{"r":21,"c":23,"v":0.18},
{"r":22,"c":1,"v":0.31},{"r":22,"c":2,"v":0.32},{"r":22,"c":3,"v":0.27},{"r":22,"c":4,"v":0.28},{"r":22,"c":5,"v":0.33},{"r":22,"c":6,"v":0.26},{"r":22,"c":7,"v":0.25},{"r":22,"c":8,"v":0.27},{"r":22,"c":9,"v":0.31},{"r":22,"c":10,"v":0.27},{"r":22,"c":11,"v":0.29},{"r":22,"c":12,"v":0.26},{"r":22,"c":13,"v":0.28},{"r":22,"c":14,"v":0.3},{"r":22,"c":15,"v":0.3},{"r":22,"c":16,"v":0.28},{"r":22,"c":17,"v":0.3},{"r":22,"c":18,"v":0.28},{"r":22,"c":19,"v":0.34},{"r":22,"c":20,"v":0.31},{"r":22,"c":21,"v":0.33},{"r":22,"c":22,"v":0.3},{"r":22,"c":23,"v":0.33}],
"da":[{"a":58.7,"b":58.7,"p":1.71,"q":10.73},{"a":58.7,"b":24.3,"p":1.71,"q":1.71},{"a":58.7,"b":26.3,"p":10.73,"q":10.73},{"a":24.3,"b":24.3,"p":0.5,"q":2.96},{"a":24.3,"b":0,"p":0.5,"q":0.5},{"a":24.3,"b":14.2,"p":2.96,"q":2.96},{"a":14.2,"b":14.2,"p":2.01,"q":3.97},{"a":14.2,"b":4,"p":2.01,"q":2.01},{"a":4,"b":4,"p":1.5,"q":2.5},{"a":4,"b":0,"p":1.5,"q":1.5},{"a":4,"b":0,"p":2.5,"q":2.5},{"a":14.2,"b":7.8,"p":3.97,"q":3.97},{"a":7.8,"b":7.8,"p":3.5,"q":4.5},{"a":7.8,"b":0,"p":3.5,"q":3.5},{"a":7.8,"b":0,"p":4.5,"q":4.5},{"a":26.3,"b":26.3,"p":7,"q":14.49},{"a":26.3,"b":11.2,"p":7,"q":7},{"a":11.2,"b":11.2,"p":5.99,"q":8.01},{"a":11.2,"b":4.7,"p":5.99,"q":5.99},{"a":4.7,"b":4.7,"p":5.5,"q":6.5},{"a":4.7,"b":0,"p":5.5,"q":5.5},{"a":4.7,"b":0,"p":6.5,"q":6.5},{"a":11.2,"b":5.6,"p":8.01,"q":8.01},{"a":5.6,"b":5.6,"p":7.5,"q":8.5},{"a":5.6,"b":0,"p":7.5,"q":7.5},{"a":5.6,"b":0,"p":8.5,"q":8.5},{"a":26.3,"b":18.1,"p":14.49,"q":14.49},{"a":18.1,"b":18.1,"p":10.23,"q":18.77},{"a":18.1,"b":12.5,"p":10.23,"q":10.23},{"a":12.5,"b":12.5,"p":9.5,"q":11},{"a":12.5,"b":0,"p":9.5,"q":9.5},{"a":12.5,"b":4.7,"p":11,"q":11},{"a":4.7,"b":4.7,"p":10.5,"q":11.5},{"a":4.7,"b":0,"p":10.5,"q":10.5},{"a":4.7,"b":0,"p":11.5,"q":11.5},{"a":18.1,"b":13.4,"p":18.77,"q":18.77},{"a":13.4,"b":13.4,"p":15.26,"q":22.3},{"a":13.4,"b":5.4,"p":15.26,"q":15.26},{"a":5.4,"b":5.4,"p":13.3,"q":17.46},{"a":5.4,"b":4.5,"p":13.3,"q":13.3},{"a":4.5,"b":4.5,"p":12.5,"q":14.2},{"a":4.5,"b":0,"p":12.5,"q":12.5},{"a":4.5,"b":3,"p":14.2,"q":14.2},{"a":3,"b":3,"p":13.5,"q":14.96},{"a":3,"b":0,"p":13.5,"q":13.5},{"a":3,"b":2,"p":14.96,"q":14.96},{"a":2,"b":2,"p":14.5,"q":15.5},{"a":2,"b":0,"p":14.5,"q":14.5},{"a":2,"b":0,"p":15.5,"q":15.5},{"a":5.4,"b":4.5,"p":17.46,"q":17.46},{"a":4.5,"b":4.5,"p":16.98,"q":18.5},{"a":4.5,"b":0,"p":18.5,"q":18.5},{"a":4.5,"b":2.5,"p":16.98,"q":16.98},{"a":2.5,"b":2.5,"p":16.5,"q":17.5},{"a":2.5,"b":0,"p":16.5,"q":16.5},{"a":2.5,"b":0,"p":17.5,"q":17.5},{"a":13.4,"b":8.6,"p":22.3,"q":22.3},{"a":8.6,"b":8.6,"p":20.31,"q":24.23},{"a":8.6,"b":4.5,"p":20.31,"q":20.31},{"a":4.5,"b":4.5,"p":19.5,"q":21.32},{"a":4.5,"b":0,"p":19.5,"q":19.5},{"a":4.5,"b":3,"p":21.32,"q":21.32},{"a":3,"b":3,"p":20.5,"q":22.03},{"a":3,"b":0,"p":20.5,"q":20.5},{"a":3,"b":2,"p":22.03,"q":22.03},{"a":2,"b":2,"p":21.5,"q":22.5},{"a":2,"b":0,"p":21.5,"q":21.5},{"a":2,"b":0,"p":22.5,"q":22.5},{"a":8.6,"b":5,"p":24.23,"q":24.23},{"a":5,"b":5,"p":23.5,"q":25},{"a":5,"b":0,"p":23.5,"q":23.5},{"a":5,"b":0.8,"p":25,"q":25}],
"dl":[{"a":27.3,"b":27.3,"p":11.7,"q":20.98},{"a":27.3,"b":12.6,"p":11.7,"q":11.7},{"a":27.3,"b":14.3,"p":20.98,"q":20.98},{"a":14.3,"b":14.3,"p":20.5,"q":21.5},{"a":14.3,"b":0,"p":20.5,"q":20.5},{"a":14.3,"b":0,"p":21.5,"q":21.5},{"a":12.6,"b":12.6,"p":5.15,"q":18.24},{"a":12.6,"b":11,"p":18.24,"q":18.24},{"a":11,"b":11,"p":17.5,"q":19},{"a":11,"b":0,"p":17.5,"q":17.5},{"a":11,"b":7.3,"p":19,"q":19},{"a":7.3,"b":7.3,"p":18.5,"q":19.5},{"a":7.3,"b":0,"p":18.5,"q":18.5},{"a":7.3,"b":0,"p":19.5,"q":19.5},{"a":12.6,"b":9.3,"p":5.15,"q":5.15},{"a":9.3,"b":9.3,"p":2.17,"q":8.24},{"a":9.3,"b":6.3,"p":2.17,"q":2.17},{"a":6.3,"b":6.3,"p":1.06,"q":3.26},{"a":6.3,"b":4.3,"p":1.06,"q":1.06},{"a":4.3,"b":4.3,"p":0.5,"q":1.5},{"a":4.3,"b":0,"p":0.5,"q":0.5},{"a":4.3,"b":0,"p":1.5,"q":1.5},{"a":6.3,"b":5.3,"p":3.26,"q":3.26},{"a":5.3,"b":5.3,"p":2.5,"q":4},{"a":5.3,"b":0,"p":2.5,"q":2.5},{"a":5.3,"b":3.3,"p":4,"q":4},{"a":3.3,"b":3.3,"p":3.5,"q":4.5},{"a":3.3,"b":0,"p":3.5,"q":3.5},{"a":3.3,"b":0,"p":4.5,"q":4.5},{"a":9.3,"b":7,"p":8.24,"q":8.24},{"a":7,"b":7,"p":5.5,"q":11.22},{"a":7,"b":0,"p":5.5,"q":5.5},{"a":7,"b":5,"p":11.22,"q":11.22},{"a":5,"b":5,"p":8.09,"q":14.35},{"a":5,"b":3.3,"p":8.09,"q":8.09},{"a":3.3,"b":3.3,"p":6.5,"q":9.7},{"a":3.3,"b":0,"p":6.5,"q":6.5},{"a":3.3,"b":2.8,"p":9.7,"q":9.7},{"a":2.8,"b":2.8,"p":7.5,"q":10.5},{"a":2.8,"b":0,"p":7.5,"q":7.5},{"a":2.8,"b":1.8,"p":10.5,"q":10.5},{"a":1.8,"b":1.8,"p":8.5,"q":11.4},{"a":1.8,"b":0,"p":8.5,"q":8.5},{"a":1.8,"b":1.3,"p":11.4,"q":11.4},{"a":1.3,"b":1.3,"p":9.5,"q":11.9},{"a":1.3,"b":0,"p":9.5,"q":9.5},{"a":1.3,"b":1,"p":11.9,"q":11.9},{"a":1,"b":1,"p":10.5,"q":12},{"a":1,"b":0,"p":10.5,"q":10.5},{"a":1,"b":0.8,"p":12,"q":12},{"a":0.8,"b":0.8,"p":11.5,"q":12.5},{"a":0.8,"b":0,"p":11.5,"q":11.5},{"a":0.8,"b":0,"p":12.5,"q":12.5},{"a":5,"b":3.8,"p":14.35,"q":14.35},{"a":3.8,"b":3.8,"p":13.5,"q":15.1},{"a":3.8,"b":0,"p":13.5,"q":13.5},{"a":3.8,"b":2.8,"p":15.1,"q":15.1},{"a":2.8,"b":2.8,"p":14.5,"q":15.95},{"a":2.8,"b":0,"p":14.5,"q":14.5},{"a":2.8,"b":2.3,"p":15.95,"q":15.95},{"a":2.3,"b":2.3,"p":15.5,"q":16.5},{"a":2.3,"b":0,"p":15.5,"q":15.5},{"a":2.3,"b":0,"p":16.5,"q":16.5}],
"dt":[{"a":1,"b":2,"p":14.3,"q":14.3},{"a":1,"b":1,"p":14.3,"q":0},{"a":2,"b":2,"p":14.3,"q":0},{"a":3,"b":4,"p":11,"q":11},{"a":3,"b":3,"p":11,"q":0},{"a":4,"b":4,"p":11,"q":0},{"a":5,"b":6,"p":12,"q":12},{"a":5,"b":5,"p":12,"q":0},{"a":6,"b":6,"p":12,"q":0},{"a":3.5,"b":5.5,"p":15.3,"q":15.3},{"a":3.5,"b":3.5,"p":15.3,"q":11},{"a":5.5,"b":5.5,"p":15.3,"q":12},{"a":7,"b":8,"p":8.7,"q":8.7},{"a":7,"b":7,"p":8.7,"q":0},{"a":8,"b":8,"p":8.7,"q":0},{"a":10,"b":11,"p":6,"q":6},{"a":10,"b":10,"p":6,"q":0},{"a":11,"b":11,"p":6,"q":0},{"a":9,"b":10.5,"p":10.5,"q":10.5},{"a":9,"b":9,"p":10.5,"q":0},{"a":10.5,"b":10.5,"p":10.5,"q":6},{"a":7.5,"b":9.75,"p":13,"q":13},{"a":7.5,"b":7.5,"p":13,"q":8.7},{"a":9.75,"b":9.75,"p":13,"q":10.5},{"a":12,"b":13,"p":11,"q":11},{"a":12,"b":12,"p":11,"q":0},{"a":13,"b":13,"p":11,"q":0},{"a":15,"b":16,"p":7,"q":7},{"a":15,"b":15,"p":7,"q":0},{"a":16,"b":16,"p":7,"q":0},{"a":17,"b":18,"p":8.7,"q":8.7},{"a":17,"b":17,"p":8.7,"q":0},{"a":18,"b":18,"p":8.7,"q":0},{"a":15.5,"b":17.5,"p":12,"q":12},{"a":15.5,"b":15.5,"p":12,"q":7},{"a":17.5,"b":17.5,"p":12,"q":8.7},{"a":14,"b":16.5,"p":14,"q":14},{"a":14,"b":14,"p":14,"q":0},{"a":16.5,"b":16.5,"p":14,"q":12},{"a":12.5,"b":15.25,"p":15.3,"q":15.3},{"a":12.5,"b":12.5,"p":15.3,"q":11},{"a":15.25,"b":15.25,"p":15.3,"q":14},{"a":20,"b":21,"p":6,"q":6},{"a":20,"b":20,"p":6,"q":0},{"a":21,"b":21,"p":6,"q":0},{"a":19,"b":20.5,"p":9,"q":9},{"a":19,"b":19,"p":9,"q":0},{"a":20.5,"b":20.5,"p":9,"q":6},{"a":22,"b":23,"p":11,"q":11},{"a":22,"b":22,"p":11,"q":0},{"a":23,"b":23,"p":11,"q":0},{"a":19.75,"b":22.5,"p":15.5,"q":15.5},{"a":19.75,"b":19.75,"p":15.5,"q":9},{"a":22.5,"b":22.5,"p":15.5,"q":11},{"a":13.9,"b":21.1,"p":18.3,"q":18.3},{"a":13.9,"b":13.9,"p":18.3,"q":15.3},{"a":21.1,"b":21.1,"p":18.3,"q":15.5},{"a":8.6,"b":17.5,"p":21,"q":21},{"a":8.6,"b":8.6,"p":21,"q":13},{"a":17.5,"b":17.5,"p":21,"q":18.3},{"a":4.5,"b":13.05,"p":25.3,"q":25.3},{"a":4.5,"b":4.5,"p":25.3,"q":15.3},{"a":13.05,"b":13.05,"p":25.3,"q":21},{"a":1.5,"b":8.8,"p":30,"q":30},{"a":1.5,"b":1.5,"p":30,"q":14.3},{"a":8.8,"b":8.8,"p":30,"q":25.3}],
"vio":[{"g":"AF","k":"N","v":0.1111,"lo":0.741,"hi":0.809},{"g":"AF","k":"N","v":0.1037,"lo":0.749,"hi":0.801},{"g":"AF","k":"N","v":0.0957,"lo":0.755,"hi":0.795},{"g":"AF","k":"N","v":0.0878,"lo":0.749,"hi":0.801},{"g":"AF","k":"N","v":0.0825,"lo":0.724,"hi":0.826},{"g":"AF","k":"N","v":0.0746,"lo":0.695,"hi":0.855},{"g":"AF","k":"N","v":0.0667,"lo":0.661,"hi":0.889},{"g":"AF","k":"N","v":0.0587,"lo":0.641,"hi":0.909},{"g":"AF","k":"N","v":0.0508,"lo":0.604,"hi":0.946},{"g":"AF","k":"N","v":0.0428,"lo":0.562,"hi":0.988},{"g":"AF","k":"N","v":0.0391,"lo":0.548,"hi":1.002},{"g":"AF","k":"N","v":0.0349,"lo":0.559,"hi":0.991},{"g":"AF","k":"N","v":0.0312,"lo":0.582,"hi":0.968},{"g":"AF","k":"N","v":0.0291,"lo":0.605,"hi":0.945},
{"g":"SR","k":"N","v":0.0466,"lo":1.126,"hi":1.325},{"g":"SR","k":"N","v":0.0349,"lo":1.123,"hi":1.327},{"g":"SR","k":"N","v":0.027,"lo":1.089,"hi":1.361},{"g":"SR","k":"N","v":0.019,"lo":1.04,"hi":1.41},{"g":"SR","k":"N","v":0.0127,"lo":0.998,"hi":1.452},{"g":"SR","k":"N","v":0.0101,"lo":1.003,"hi":1.447},{"g":"SR","k":"N","v":0.0085,"lo":1.026,"hi":1.424},
{"g":"AF","k":"T","v":0.1989,"lo":1.718,"hi":1.832},{"g":"AF","k":"T","v":0.1672,"lo":1.718,"hi":1.832},{"g":"AF","k":"T","v":0.146,"lo":1.69,"hi":1.86},{"g":"AF","k":"T","v":0.1248,"lo":1.633,"hi":1.917},{"g":"AF","k":"T","v":0.109,"lo":1.576,"hi":1.974},{"g":"AF","k":"T","v":0.0931,"lo":1.548,"hi":2.002},{"g":"AF","k":"T","v":0.0772,"lo":1.582,"hi":1.968},{"g":"AF","k":"T","v":0.0614,"lo":1.627,"hi":1.923},{"g":"AF","k":"T","v":0.0455,"lo":1.639,"hi":1.911},{"g":"AF","k":"T","v":0.0307,"lo":1.633,"hi":1.917},
{"g":"SR","k":"T","v":0.2545,"lo":2.14,"hi":2.31},{"g":"SR","k":"T","v":0.2412,"lo":2.123,"hi":2.327},{"g":"SR","k":"T","v":0.2254,"lo":2.083,"hi":2.367},{"g":"SR","k":"T","v":0.2095,"lo":2.026,"hi":2.424},{"g":"SR","k":"T","v":0.191,"lo":1.998,"hi":2.452},{"g":"SR","k":"T","v":0.1725,"lo":2.037,"hi":2.413},{"g":"SR","k":"T","v":0.1566,"lo":2.083,"hi":2.367},{"g":"SR","k":"T","v":0.1354,"lo":2.111,"hi":2.339},{"g":"SR","k":"T","v":0.1143,"lo":2.117,"hi":2.333},{"g":"SR","k":"T","v":0.1016,"lo":2.111,"hi":2.339}],
"box":[{"g":"AF","x":0.775,"xl":0.737,"xr":0.813,"q1":0.038,"q3":0.064,"med":0.0405,"mean":0.0545,"wlo":0.0291,"whi":0.0745},{"g":"SR","x":1.225,"xl":1.187,"xr":1.263,"q1":0.0106,"q3":0.0322,"med":0.018,"mean":0.0238,"wlo":0.0085,"whi":0.0466},{"g":"AF","x":1.775,"xl":1.737,"xr":1.813,"q1":0.0634,"q3":0.1115,"med":0.095,"mean":0.1015,"wlo":0.0307,"whi":0.167},{"g":"SR","x":2.225,"xl":2.187,"xr":2.263,"q1":0.14,"q3":0.1966,"med":0.1934,"mean":0.1765,"wlo":0.1016,"whi":0.2545}],
"pv":[{"x1":0.738,"x2":1.292,"y":0.122,"px":0.838,"tx":0.858,"ty":0.1274,"p":"P","t":"= 0.0012"},{"x1":1.73,"x2":2.278,"y":0.2108,"px":1.83,"tx":1.847,"ty":0.2135,"p":"P","t":"= 0.0011"}],
"frame":[{"x1":0.437,"x2":2.652,"y1":-0.0032,"y2":0.2667}]
},
"resolve":{"scale":{"x":"independent","y":"independent","color":"independent","fill":"independent"},"axis":{"x":"independent","y":"independent"},"legend":{"color":"independent","fill":"independent"}},
"layer":[
{"data":{"name":"ha"},"transform":[{"lookup":"r","from":{"data":{"name":"genes"},"key":"r","fields":["gene"]}}],
"mark":{"type":"rect","stroke":"#5c5c5c","strokeWidth":0.7},
"encoding":{
"x":{"field":"c","type":"ordinal","scale":{"range":[130,364],"paddingInner":0,"paddingOuter":0,"round":false},"axis":{"orient":"bottom","offset":-711,"labels":false,"ticks":false,"domain":false,"title":"(a)","titleFontSize":10.5,"titleX":336,"titleY":102.7,"titleBaseline":"middle","titleAlign":"center"}},
"y":{"field":"gene","type":"nominal","sort":{"field":"r","op":"min"},"scale":{"range":[-13.83,390],"paddingInner":0,"paddingOuter":0,"round":false},"axis":{"orient":"right","offset":-310,"title":null,"ticks":false,"domain":false,"labelPadding":4.5,"labelFontSize":10.8,"labelLimit":300}},
"color":{"field":"v","type":"quantitative","scale":{"domain":[3.66,4,5,5.6,6,6.3,6.6,6.9,7.1,7.4,7.7,8,8.7,9,9.5,10,10.6],"range":["#0a1a70","#0e1f75","#1f2d7f","#414d9a","#5a64ab","#7f87c0","#a3a8d2","#d5d7e8","#ffffff","#f6dadb","#efaeaf","#e88283","#e35355","#e04040","#d92a2d","#d01015","#cc0000"]},"legend":{"type":"gradient","orient":"none","legendX":579,"legendY":-23.6,"direction":"vertical","title":null,"gradientLength":414.3,"gradientThickness":11,"gradientStrokeWidth":0,"values":[4,5,6,7,8,9,10],"labelFontSize":10.5,"labelOffset":4,"labelOverlap":false,"format":"d"}}}},
{"data":{"name":"da"},"mark":{"type":"rule","stroke":"#555555","strokeWidth":1},"encoding":{"x":{"field":"a","type":"quantitative","scale":{"domain":[0,100],"range":[130,30],"nice":false},"axis":null},"x2":{"field":"b"},"y":{"field":"p","type":"quantitative","scale":{"domain":[0,24],"range":[-13.83,390],"nice":false},"axis":null},"y2":{"field":"q"}}},
{"data":{"name":"ann"},"mark":{"type":"rect"},"encoding":{
"x":{"field":"c","type":"ordinal","scale":{"range":[130,364],"paddingInner":0,"paddingOuter":0,"round":false},"axis":null},
"y":{"field":"t","type":"nominal","scale":{"range":[-45,-30],"paddingInner":0,"paddingOuter":0,"round":false},"axis":null},
"color":{"field":"g","type":"nominal","scale":{"domain":["SR","AF"],"range":["#d6c80e","#000000"]},"legend":{"orient":"none","legendX":129.6,"legendY":422,"title":"Group","titleFontSize":10.5,"titlePadding":5,"symbolType":"square","symbolSize":272,"symbolStrokeColor":"#666666","symbolStrokeWidth":1,"rowPadding":1.5,"labelFontSize":10.5,"labelOffset":6.5}}}},
{"data":{"name":"hb"},"transform":[{"lookup":"r","from":{"data":{"name":"cells"},"key":"r","fields":["gene"]}}],
"mark":{"type":"rect","stroke":"#7a7a7a","strokeWidth":1},
"encoding":{
"x":{"field":"c","type":"ordinal","scale":{"range":[28.3,193.3],"paddingInner":0,"paddingOuter":0,"round":false},"axis":{"orient":"bottom","offset":-87.8,"labels":false,"ticks":false,"domain":false,"title":"(b)","titleFontSize":10.5,"titleX":186,"titleY":82.5,"titleBaseline":"middle","titleAlign":"center"}},
"y":{"field":"gene","type":"nominal","sort":{"field":"r","op":"min"},"scale":{"range":[549.3,1013.2],"paddingInner":0,"paddingOuter":0,"round":false},"axis":{"orient":"right","offset":-480.7,"title":null,"ticks":false,"domain":false,"labelPadding":5,"labelFontSize":10.6,"labelLimit":300}},
"color":{"field":"v","type":"quantitative","scale":{"domain":[-0.01,0,0.01,0.05,0.1,0.15,0.2,0.25,0.3,0.358],"range":["#ffffff","#ffffff","#ece9f1","#b9bcdd","#8f95c8","#646eb5","#4a56a8","#37439b","#25328d","#0f1f7c"]},"legend":{"type":"gradient","orient":"none","legendX":342,"legendY":549.3,"direction":"vertical","title":null,"gradientLength":466,"gradientThickness":10,"gradientStrokeWidth":0,"values":[0,0.05,0.1,0.15,0.2,0.25,0.3,0.35],"format":".2~f","labelFontSize":10.5,"labelOffset":5,"labelOverlap":false}}}},
{"data":{"name":"dl"},"mark":{"type":"rule","stroke":"#555555","strokeWidth":1},"encoding":{"x":{"field":"a","type":"quantitative","scale":{"domain":[0,30],"range":[28.3,-1.7],"nice":false},"axis":null},"x2":{"field":"b"},"y":{"field":"p","type":"quantitative","scale":{"domain":[0,22],"range":[549.3,1013.2],"nice":false},"axis":null},"y2":{"field":"q"}}},
{"data":{"name":"dt"},"mark":{"type":"rule","stroke":"#555555","strokeWidth":1},"encoding":{"x":{"field":"a","type":"quantitative","scale":{"domain":[0.5,23.5],"range":[28.3,193.3],"nice":false},"axis":null},"x2":{"field":"b"},"y":{"field":"p","type":"quantitative","scale":{"domain":[0,36],"range":[536,500],"nice":false},"axis":null},"y2":{"field":"q"}}},
{"data":{"name":"ann"},"mark":{"type":"rect","stroke":"#7a7a7a","strokeWidth":0.8},"encoding":{
"x":{"field":"c","type":"ordinal","scale":{"range":[28.3,193.3],"paddingInner":0,"paddingOuter":0,"round":false},"axis":null},
"y":{"field":"t","type":"nominal","scale":{"range":[536,547.3],"paddingInner":0,"paddingOuter":0,"round":false},"axis":null},
"color":{"field":"g","type":"nominal","scale":{"domain":["SR","AF"],"range":["#d6c80e","#000000"]},"legend":{"orient":"none","legendX":28.3,"legendY":1027,"title":"Group","titleFontSize":10.5,"titlePadding":5,"symbolType":"square","symbolSize":225,"symbolStrokeColor":"#777777","symbolStrokeWidth":1,"rowPadding":2.8,"labelFontSize":10.5,"labelOffset":7.5}}}},
{"layer":[
{"data":{"name":"vio"},"mark":{"type":"area","orient":"horizontal","interpolate":"monotone","stroke":"#333333","strokeWidth":1},"encoding":{
"x":{"field":"lo","type":"quantitative","scale":{"domain":[0.437,2.652],"range":[414,673.5],"nice":false},"axis":{"orient":"bottom","offset":-93.7,"values":[1,2],"labelExpr":"datum.value==1?'Neutrophils':'T cells CD8'","domain":false,"tickSize":3,"tickColor":"#333333","labelFontSize":10.8,"labelPadding":4,"title":"(c)","titleFontSize":10.5,"titleX":529,"titleY":88.4,"titleBaseline":"middle","titleAlign":"center"}},
"x2":{"field":"hi"},
"y":{"field":"v","type":"quantitative","scale":{"domain":[-0.0032,0.2667],"range":[1007.3,837.3],"nice":false},"axis":{"orient":"left","offset":-414,"values":[0,0.05,0.1,0.15,0.2,0.25],"format":".2f","domain":false,"tickSize":3,"tickColor":"#333333","labelFontSize":10,"labelPadding":2,"title":null}},
"detail":{"field":"k"},
"color":{"field":"g","type":"nominal","scale":{"domain":["AF","SR"],"range":["#5f2d10","#3a8c1c"]},"legend":{"orient":"none","legendX":412,"legendY":1035,"title":"Group","titleFontSize":10.5,"titlePadding":5,"symbolType":"M-1,-1H1V1H-1Z M-1,-0.3H1 M-1,0.3H1","symbolSize":121,"symbolStrokeColor":"#222222","symbolStrokeWidth":0.8,"rowPadding":2.5,"labelFontSize":10.5,"labelOffset":6}}}},
{"data":{"name":"box"},"mark":{"type":"rule","stroke":"#111111","strokeWidth":1},"encoding":{"x":{"field":"x","type":"quantitative","scale":{"domain":[0.437,2.652],"range":[414,673.5],"nice":false}},"y":{"field":"wlo","type":"quantitative","scale":{"domain":[-0.0032,0.2667],"range":[1007.3,837.3],"nice":false}},"y2":{"field":"whi"}}},
{"data":{"name":"box"},"mark":{"type":"rect","stroke":"#111111","strokeWidth":0.8},"encoding":{"x":{"field":"xl","type":"quantitative","scale":{"domain":[0.437,2.652],"range":[414,673.5],"nice":false}},"x2":{"field":"xr"},"y":{"field":"q1","type":"quantitative","scale":{"domain":[-0.0032,0.2667],"range":[1007.3,837.3],"nice":false}},"y2":{"field":"q3"},"fill":{"field":"g","type":"nominal","scale":{"domain":["AF","SR"],"range":["#7b3019","#1f7a3a"]},"legend":null}}},
{"data":{"name":"box"},"mark":{"type":"rule","stroke":"#0a0a0a","strokeWidth":3.5},"encoding":{"x":{"field":"xl","type":"quantitative","scale":{"domain":[0.437,2.652],"range":[414,673.5],"nice":false}},"x2":{"field":"xr"},"y":{"field":"med","type":"quantitative","scale":{"domain":[-0.0032,0.2667],"range":[1007.3,837.3],"nice":false}}}},
{"data":{"name":"box"},"mark":{"type":"point","filled":true,"fill":"#0a0a0a","stroke":null,"size":14,"opacity":1},"encoding":{"x":{"field":"x","type":"quantitative","scale":{"domain":[0.437,2.652],"range":[414,673.5],"nice":false}},"y":{"field":"mean","type":"quantitative","scale":{"domain":[-0.0032,0.2667],"range":[1007.3,837.3],"nice":false}}}},
{"data":{"name":"pv"},"mark":{"type":"rule","stroke":"#f0494a","strokeWidth":1},"encoding":{"x":{"field":"x1","type":"quantitative","scale":{"domain":[0.437,2.652],"range":[414,673.5],"nice":false}},"x2":{"field":"x2"},"y":{"field":"y","type":"quantitative","scale":{"domain":[-0.0032,0.2667],"range":[1007.3,837.3],"nice":false}}}},
{"data":{"name":"pv"},"mark":{"type":"text","font":"Liberation Serif","fontSize":10.8,"fontStyle":"italic","align":"right","baseline":"alphabetic","color":"#2a2a2a"},"encoding":{"x":{"field":"px","type":"quantitative","scale":{"domain":[0.437,2.652],"range":[414,673.5],"nice":false}},"y":{"field":"ty","type":"quantitative","scale":{"domain":[-0.0032,0.2667],"range":[1007.3,837.3],"nice":false}},"text":{"field":"p"}}},
{"data":{"name":"pv"},"mark":{"type":"text","font":"Liberation Serif","fontSize":10.8,"align":"left","baseline":"alphabetic","color":"#2a2a2a"},"encoding":{"x":{"field":"tx","type":"quantitative","scale":{"domain":[0.437,2.652],"range":[414,673.5],"nice":false}},"y":{"field":"ty","type":"quantitative","scale":{"domain":[-0.0032,0.2667],"range":[1007.3,837.3],"nice":false}},"text":{"field":"t"}}},
{"data":{"name":"frame"},"mark":{"type":"rect","fillOpacity":0,"fill":"white","stroke":"#444444","strokeWidth":1.1},"encoding":{"x":{"field":"x1","type":"quantitative","scale":{"domain":[0.437,2.652],"range":[414,673.5],"nice":false}},"x2":{"field":"x2"},"y":{"field":"y1","type":"quantitative","scale":{"domain":[-0.0032,0.2667],"range":[1007.3,837.3],"nice":false}},"y2":{"field":"y2"}}}
]}
]}
